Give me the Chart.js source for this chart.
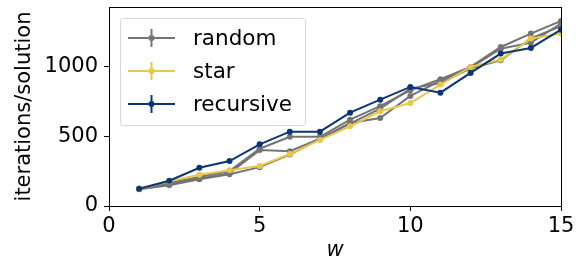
<!DOCTYPE html>
<html>
<head>
<meta charset="utf-8">
<script src="https://cdn.jsdelivr.net/npm/chart.js@4"></script>
<style>
  html, body { margin: 0; padding: 0; background: #fff; }
  #wrap { width: 584px; height: 263px; }
</style>
</head>
<body>
<div id="wrap"><canvas id="c"></canvas></div>
<script>
// w values
var w = [1, 2, 3, 4, 5, 6, 7, 8, 9, 10, 11, 12, 13, 14, 15];

// random runs (gray), only first one goes in the legend
var random1 = [124, 165, 208, 250, 410, 495, 495, 618, 714, 828, 907, 995, 1138, 1234, 1324];
var random2 = [122, 155, 195, 235, 400, 392, 482, 594, 630, 788, 895, 990, 1126, 1169, 1305];
var random3 = [120, 148, 191, 227, 278, 368, 478, 590, 697, 840, 880, 985, 1043, 1200, 1286];
var star = [124, 177, 224, 255, 286, 372, 473, 570, 678, 737, 869, 995, 1048, 1198, 1234];
var recursive = [124, 181, 274, 322, 441, 532, 532, 668, 761, 852, 811, 952, 1091, 1131, 1262];

var xTicks = [0, 5, 10, 15];
var yTicks = [0, 500, 1000];

var gray = '#747474';
var yellow = '#e6c84b';
var blue = '#0c3576';

function pts(ys) {
    return ys.map(function(v, i) { return {x: w[i], y: v}; });
}

function series(label, ys, color, order) {
    return {
        label: label,
        data: pts(ys),
        borderColor: color,
        backgroundColor: color,
        borderWidth: 2,
        pointRadius: 3,
        pointHoverRadius: 3,
        pointBorderWidth: 0,
        order: order
    };
}

// legend drawn inside the axes like matplotlib
var legendItems = [
    {label: 'random', color: gray},
    {label: 'star', color: yellow},
    {label: 'recursive', color: blue}
];

var insideLegend = {
    id: 'insideLegend',
    afterDraw: function(chart) {
        var ctx = chart.ctx;
        var a = chart.chartArea;
        ctx.save();
        // frame
        ctx.strokeStyle = '#000';
        ctx.lineWidth = 1;
        ctx.strokeRect(a.left + 0.5, a.top + 0.5, a.right - a.left, a.bottom - a.top);

        var bx = 120.5, by = 18.5, bw = 185, bh = 107;
        ctx.fillStyle = 'rgba(255,255,255,0.8)';
        ctx.strokeStyle = '#d6d6d6';
        ctx.beginPath();
        ctx.roundRect(bx, by, bw, bh, 3);
        ctx.fill();
        ctx.stroke();

        ctx.font = '21.5px "DejaVu Sans"';
        ctx.textBaseline = 'middle';
        legendItems.forEach(function(it, i) {
            var y = 38 + i * 33;
            ctx.strokeStyle = it.color;
            ctx.lineWidth = 2;
            ctx.beginPath();
            ctx.moveTo(128, y); ctx.lineTo(175, y);
            ctx.moveTo(151.5, y - 9); ctx.lineTo(151.5, y + 9);
            ctx.stroke();
            ctx.fillStyle = it.color;
            ctx.beginPath();
            ctx.arc(151.5, y, 3, 0, Math.PI * 2);
            ctx.fill();
            ctx.fillStyle = '#000';
            ctx.fillText(it.label, 193, y + 1);
        });
        ctx.restore();
    }
};

var tickFont = {family: 'DejaVu Sans', size: 21};

new Chart(document.getElementById('c'), {
    type: 'line',
    data: {
        datasets: [
            series('random', random1, gray, 4),
            series('random2', random2, gray, 4),
            series('random3', random3, gray, 4),
            series('star', star, yellow, 2),
            series('recursive', recursive, blue, 1)
        ]
    },
    options: {
        responsive: true,
        maintainAspectRatio: false,
        animation: false,
        layout: {padding: {top: 7, right: 23, left: 0, bottom: 0}},
        plugins: {
            legend: {display: false},
            tooltip: {enabled: false}
        },
        scales: {
            x: {
                type: 'linear',
                min: 0,
                max: 15,
                afterBuildTicks: function(s) { s.ticks = xTicks.map(function(v) { return {value: v}; }); },
                afterFit: function(s) { s.height = 57; s.paddingLeft = 0; s.paddingRight = 0; },
                grid: {drawOnChartArea: false, tickLength: 5, color: '#000', tickWidth: 1},
                border: {display: false},
                ticks: {color: '#000', font: tickFont, padding: 3, maxRotation: 0},
                title: {display: true, text: 'w', color: '#000',
                        font: {family: 'DejaVu Sans', size: 21, style: 'italic'}, padding: {top: 0, bottom: 0}}
            },
            y: {
                min: 0,
                max: 1424,
                afterBuildTicks: function(s) { s.ticks = yTicks.map(function(v) { return {value: v}; }); },
                afterFit: function(s) { s.width = 109; s.paddingTop = 0; s.paddingBottom = 0; },
                grid: {drawOnChartArea: false, tickLength: 5, color: '#000', tickWidth: 1},
                border: {display: false},
                ticks: {color: '#000', font: tickFont, padding: 6,
                        callback: function(v) { return String(v); }},
                title: {display: true, text: 'iterations/solution', color: '#000',
                        font: {family: 'DejaVu Sans', size: 21}, padding: {top: 12, bottom: 0}}
            }
        }
    },
    plugins: [insideLegend]
});
</script>
</body>
</html>
